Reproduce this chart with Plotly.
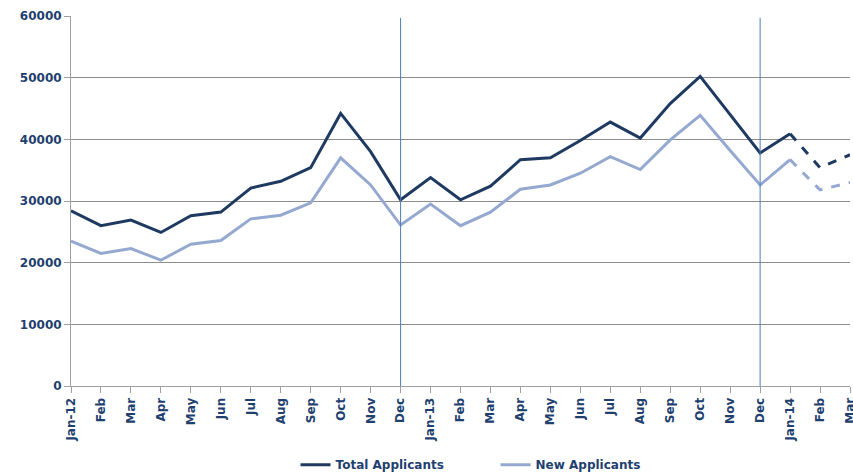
import plotly.graph_objects as go

months = ["Jan-12", "Feb", "Mar", "Apr", "May", "Jun", "Jul", "Aug", "Sep", "Oct", "Nov", "Dec",
          "Jan-13", "Feb", "Mar", "Apr", "May", "Jun", "Jul", "Aug", "Sep", "Oct", "Nov", "Dec",
          "Jan-14", "Feb", "Mar"]
total_applicants = [28400, 26000, 26900, 24900, 27600, 28200, 32100, 33200, 35400, 44200, 38000, 30200,
                    33800, 30200, 32400, 36700, 37000, 39800, 42800, 40200, 45800, 50200, 44000, 37800,
                    40900, 35400, 37500]
new_applicants = [23500, 21500, 22300, 20400, 23000, 23600, 27100, 27700, 29700, 37000, 32600, 26100,
                  29500, 26000, 28200, 31900, 32600, 34500, 37200, 35100, 39900, 43900, 38200, 32600,
                  36700, 31800, 33000]
forecast_start = 24  # Jan-14: projection (dashed) from here on
year_end_markers = [11, 23]  # Dec-12, Dec-13
y_ticks = [0, 10000, 20000, 30000, 40000, 50000, 60000]

TOTAL_C = "#1f3a60"
NEW_C = "#95a9d0"
TEXT_C = "#1f3f6f"

idx = list(range(len(months)))
fig = go.Figure()

for name, vals, col in [("Total Applicants", total_applicants, TOTAL_C),
                        ("New Applicants", new_applicants, NEW_C)]:
    fig.add_trace(go.Scatter(x=idx[:forecast_start + 1], y=vals[:forecast_start + 1], mode="lines",
                             name=name, line=dict(color=col, width=3), legendgroup=name))
    fig.add_trace(go.Scatter(x=idx[forecast_start:], y=vals[forecast_start:], mode="lines",
                             name=name, showlegend=False, legendgroup=name,
                             line=dict(color=col, width=3, dash="dash")))

for m in year_end_markers:
    fig.add_shape(type="line", xref="x", yref="y", x0=m, x1=m, y0=0, y1=59700,
                  line=dict(color="#4a7ebb", width=1), layer="above")

font = dict(family="DejaVu Sans", size=12, color=TEXT_C, weight="bold")

fig.update_layout(
    width=853, height=475,
    margin=dict(l=71, r=3, t=16, b=89, autoexpand=False),
    paper_bgcolor="white", plot_bgcolor="white",
    showlegend=True,
    legend=dict(orientation="h", x=0.545, xanchor="center", y=-0.213, yanchor="middle",
                font=font, entrywidth=155, entrywidthmode="pixels"),
    xaxis=dict(range=[0, 26], tickvals=idx, ticktext=months, tickangle=-90, tickfont=font,
               automargin=False, ticklabeloverflow="allow",
               showgrid=False, zeroline=False, showline=True, linecolor="#a0a0a0", linewidth=1,
               ticks="outside", ticklen=6, tickcolor="#a0a0a0"),
    yaxis=dict(range=[0, 60000], tickvals=y_ticks, tickformat="d", tickfont=font, showgrid=True,
               automargin=False,
               gridcolor="#8c8c8c", gridwidth=1, zeroline=False, showline=True,
               linecolor="#a0a0a0", linewidth=1, ticks="outside", ticklen=6, tickcolor="#a0a0a0"),
)

fig.write_html("out.html", config={"displayModeBar": False},
               post_script="document.body.style.margin='0';document.body.style.overflow='hidden';")
